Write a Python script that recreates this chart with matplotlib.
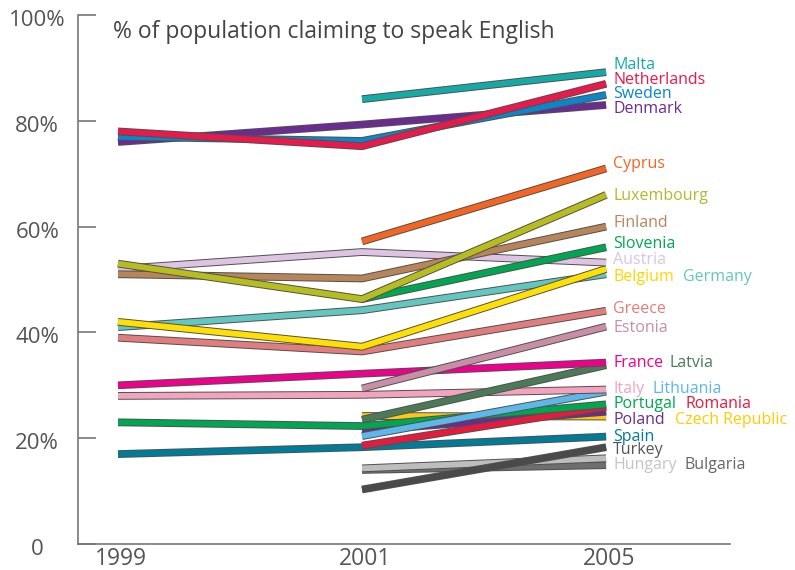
import numpy as np
import matplotlib
matplotlib.use("Agg")
import matplotlib.pyplot as plt
import matplotlib.patheffects as pe
import matplotlib.transforms as mtrans

# survey years (drawn evenly spaced)
years = ["1999", "2001", "2005"]

countries = ["Bulgaria", "Hungary", "Turkey", "Spain", "Czech Republic", "Poland",
             "Romania", "Portugal", "Lithuania", "Italy", "Latvia", "France",
             "Estonia", "Greece", "Germany", "Belgium", "Austria", "Slovenia",
             "Finland", "Luxembourg", "Cyprus", "Denmark", "Sweden", "Netherlands",
             "Malta"]
v1999 = [np.nan, np.nan, np.nan, 17, np.nan, np.nan, np.nan, 23, np.nan, 28, np.nan, 30,
         np.nan, 39, 41, 42, 52, np.nan, 51, 53, np.nan, 76, 77, 78, np.nan]
v2001 = [14, 14.3, 10.3, 18.3, 24.2, 21.4, 18.6, 22.3, 20.4, 28.2, 23.5, 32.2,
         29.4, 36.4, 44.2, 37.3, 55.2, 46.3, 50.2, 46.3, 57.2, 79.3, 76.2, 75.2, 84.1]
v2005 = [14.9, 16.2, 18.3, 20.3, 24.1, 25.0, 25.9, 26.4, 28.8, 29.2, 33.8, 34.3,
         41.1, 44.1, 51.0, 52.0, 53.2, 56.1, 60.0, 66.0, 71.0, 83.0, 84.9, 87.0, 89.2]
colors = ["#6e6e6e", "#bdbdbd", "#4a4a4a", "#007b98", "#fdc80f", "#6b2c91",
          "#e31b3d", "#00a651", "#5db7e8", "#f3a3bd", "#4b7a58", "#ec008c",
          "#c98ea6", "#e07d7d", "#63c6c0", "#ffe000", "#dec3e2", "#00a651",
          "#b8845a", "#b6bd1c", "#f26522", "#6b2c91", "#0a86c9", "#e8194b",
          "#16aaa6"]
label_colors = {"Hungary": "#c4c4c4", "Luxembourg": "#b4b82c", "Belgium": "#ffd400",
                "Czech Republic": "#ffcc00", "Bulgaria": "#666666", "Turkey": "#555555"}

# label placement: (y in % units, x offset in pixels from 2005)
label_pos = {
    "Malta": (90.6, 7), "Netherlands": (87.8, 7), "Sweden": (85.0, 7), "Denmark": (82.2, 7),
    "Cyprus": (71.8, 7), "Luxembourg": (65.8, 7), "Finland": (60.7, 7), "Slovenia": (56.7, 7),
    "Austria": (53.6, 7), "Belgium": (50.5, 7), "Germany": (50.5, 77),
    "Greece": (44.4, 7), "Estonia": (40.9, 7), "France": (34.2, 7), "Latvia": (34.2, 63),
    "Italy": (29.3, 7), "Lithuania": (29.3, 46), "Portugal": (26.5, 7), "Romania": (26.5, 79),
    "Poland": (23.5, 7), "Czech Republic": (23.5, 69), "Spain": (20.3, 7), "Turkey": (17.8, 7),
    "Hungary": (15.0, 7), "Bulgaria": (15.0, 78),
}

plt.rcParams['font.family'] = ['Open Sans', 'DejaVu Sans']

fig = plt.figure(figsize=(7.95, 5.7), dpi=100)
ax = fig.add_axes([0.0975, 0.0456, 0.8208, 0.928])

x = np.arange(len(years))
for i, name in enumerate(countries):
    vals = [v1999[i], v2001[i], v2005[i]]
    ax.plot(x, vals, color=colors[i], lw=4.2, solid_capstyle='butt',
            solid_joinstyle='miter', zorder=3 + i * 0.01,
            path_effects=[pe.Stroke(linewidth=5.6, foreground='#505050'), pe.Normal()])
    ly, dx = label_pos[name]
    ax.annotate(name, xy=(2, ly), xytext=(dx, 0), textcoords='offset pixels',
                va='center', ha='left', fontsize=11.5,
                color=label_colors.get(name, colors[i]))

ax.set_xlim(-0.166, 2.508)
ax.set_ylim(0, 100)

ax.set_xticks(x)
ax.set_xticklabels(years, fontsize=16.5, color='#555555')
ax.tick_params(axis='x', length=0, pad=2)
shift_x = mtrans.ScaledTranslation(3 / 100, 0, fig.dpi_scale_trans)
for lab in ax.get_xticklabels():
    lab.set_transform(lab.get_transform() + shift_x)

ax.set_yticks([0, 20, 40, 60, 80, 100])
ax.set_yticklabels(["0", "20%", "40%", "60%", "80%", "100%"], fontsize=16, color='#555555')
ax.tick_params(axis='y', direction='in', length=13, width=1.2, color='#777777', pad=29)
shift_y = mtrans.ScaledTranslation(0, -3 / 100, fig.dpi_scale_trans)
for lab in ax.get_yticklabels():
    lab.set_horizontalalignment('center')
    lab.set_transform(lab.get_transform() + shift_y)

for s in ['top', 'right']:
    ax.spines[s].set_visible(False)
for s in ['left', 'bottom']:
    ax.spines[s].set_color('#777777')
    ax.spines[s].set_linewidth(1.2)

ax.text(-0.02, 96.8, "% of population claiming to speak English", fontsize=16.5,
        color='#444444', va='center', ha='left')

fig.savefig("out.png", dpi=100)
